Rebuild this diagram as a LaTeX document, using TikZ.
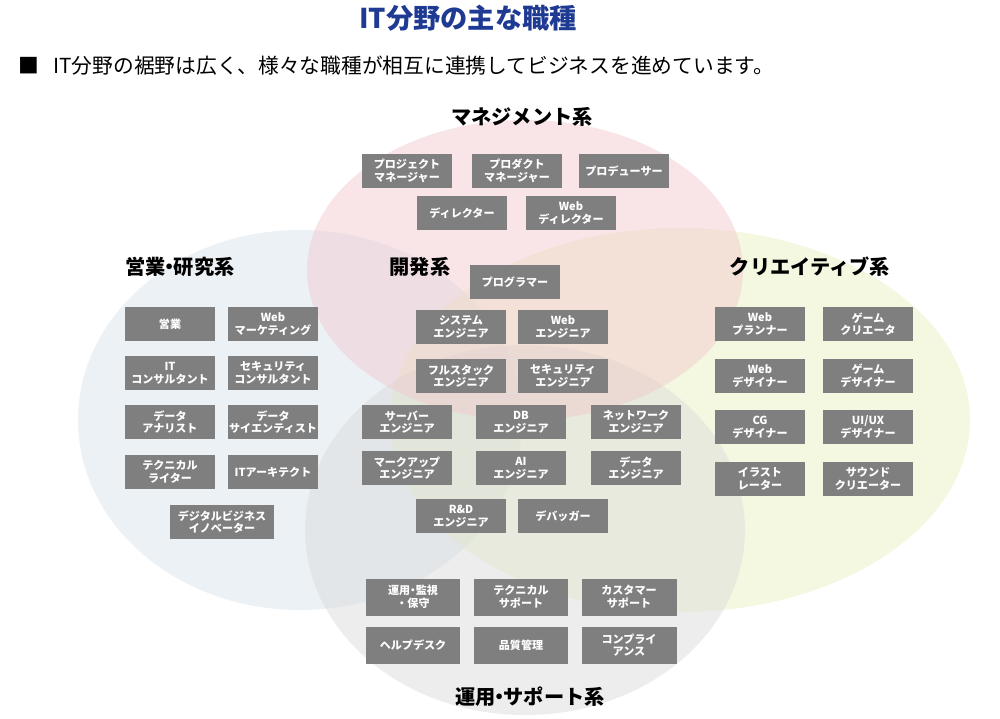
\documentclass[tikz,border=0pt]{standalone}
\usepackage{fontspec}
\setmainfont{Noto Sans CJK JP}
\begin{document}
\begin{tikzpicture}[x=0.02cm,y=-0.02cm,
  job/.style={fill=boxgray,minimum width=1.8cm,minimum height=0.68cm,inner sep=0pt,align=center,text=white,font=\bfseries\fontsize{6.3}{7.2}\selectfont},
  grp/.style={font=\bfseries\fontsize{11.5}{13}\selectfont,text=black},
  circ/.style={fill opacity=0.45,draw=none}]
\definecolor{boxgray}{HTML}{7F7F7F}
\definecolor{navy}{HTML}{1F3A93}
\definecolor{cpink}{HTML}{F2C6CB}
\definecolor{cblue}{HTML}{D6E1EC}
\definecolor{cyel}{HTML}{E8F0BE}
\definecolor{cgray}{HTML}{D9D9D9}
\useasboundingbox (0,0) rectangle (1000,718);
\fill[white] (0,0) rectangle (1000,718);
\fill[cblue,circ] (300,420) ellipse [x radius=222, y radius=190];
\fill[cyel,circ] (680,420) ellipse [x radius=290, y radius=192];
\fill[cgray,circ] (525,530) ellipse [x radius=220, y radius=185];
\fill[cpink,circ] (525,270) ellipse [x radius=218, y radius=150];
\node[font=\bfseries\fontsize{15.5}{17}\selectfont,text=navy] (title) at (468,18) {IT分野の主な職種};
\node[anchor=west,font=\fontsize{11.8}{13}\selectfont] (lead) at (12,66) {■\hspace{0.7em}IT分野の裾野は広く、様々な職種が相互に連携してビジネスを進めています。};
\node[grp] (gm) at (522,117) {マネジメント系};
\node[grp] (gs) at (180,267) {営業{\kern-0.3em}・{\kern-0.3em}研究系};
\node[grp] (gd) at (420,267) {開発系};
\node[grp] (gc) at (810,267) {クリエイティブ系};
\node[grp] (go) at (530,697) {運用{\kern-0.3em}・{\kern-0.3em}サポート系};
% management
\node[job] (m1) at (407,171) {プロジェクト\\マネージャー};
\node[job] (m2) at (517,171) {プロダクト\\マネージャー};
\node[job] (m3) at (624,171) {プロデューサー};
\node[job] (m4) at (462,213) {ディレクター};
\node[job] (m5) at (571,213) {Web\\ディレクター};
% development
\node[job] (d1) at (515,282) {プログラマー};
\node[job] (d2) at (461,327) {システム\\エンジニア};
\node[job] (d3) at (563,327) {Web\\エンジニア};
\node[job] (d4) at (461,376) {フルスタック\\エンジニア};
\node[job] (d5) at (563,376) {セキュリティ\\エンジニア};
\node[job] (d6) at (407,422) {サーバー\\エンジニア};
\node[job] (d7) at (521,422) {DB\\エンジニア};
\node[job] (d8) at (636,422) {ネットワーク\\エンジニア};
\node[job] (d9) at (407,468) {マークアップ\\エンジニア};
\node[job] (d10) at (521,468) {AI\\エンジニア};
\node[job] (d11) at (636,468) {データ\\エンジニア};
\node[job] (d12) at (461,516) {R\&D\\エンジニア};
\node[job] (d13) at (563,516) {デバッガー};
% sales/research
\node[job] (s1) at (170,324) {営業};
\node[job] (s2) at (273,324) {Web\\マーケティング};
\node[job] (s3) at (170,373) {IT\\コンサルタント};
\node[job] (s4) at (273,373) {セキュリティ\\コンサルタント};
\node[job] (s5) at (170,422) {データ\\アナリスト};
\node[job] (s6) at (273,422) {データ\\サイエンティスト};
\node[job] (s7) at (170,472) {テクニカル\\ライター};
\node[job] (s8) at (273,472) {ITアーキテクト};
\node[job,minimum width=2.1cm] (s9) at (222,522) {デジタルビジネス\\イノベーター};
% creative
\node[job] (c1) at (760,324) {Web\\プランナー};
\node[job] (c2) at (868,324) {ゲーム\\クリエータ};
\node[job] (c3) at (760,376) {Web\\デザイナー};
\node[job] (c4) at (868,376) {ゲーム\\デザイナー};
\node[job] (c5) at (760,427) {CG\\デザイナー};
\node[job] (c6) at (868,427) {UI/UX\\デザイナー};
\node[job] (c7) at (760,479) {イラスト\\レーター};
\node[job] (c8) at (868,479) {サウンド\\クリエーター};
% operations
\node[job,minimum width=1.9cm,minimum height=0.74cm] (o1) at (413,597) {運用{\kern-0.25em}・{\kern-0.25em}監視\\・保守};
\node[job,minimum width=1.9cm,minimum height=0.74cm] (o2) at (521,597) {テクニカル\\サポート};
\node[job,minimum width=1.9cm,minimum height=0.74cm] (o3) at (629,597) {カスタマー\\サポート};
\node[job,minimum width=1.9cm,minimum height=0.74cm] (o4) at (413,645) {ヘルプデスク};
\node[job,minimum width=1.9cm,minimum height=0.74cm] (o5) at (521,645) {品質管理};
\node[job,minimum width=1.9cm,minimum height=0.74cm] (o6) at (629,645) {コンプライ\\アンス};
\end{tikzpicture}
\end{document}
